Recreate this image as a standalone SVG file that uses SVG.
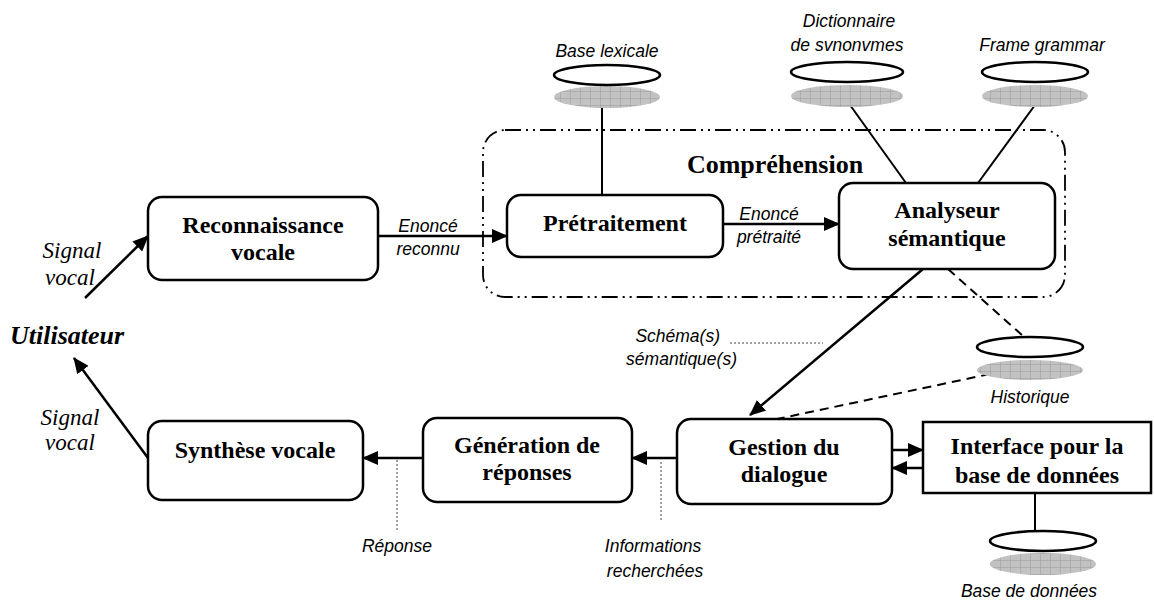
<svg xmlns="http://www.w3.org/2000/svg" width="1154" height="601" viewBox="0 0 1154 601">
<style>
.box{fill:#fff;stroke:#000;stroke-width:2.5}
.bt{font-family:"Liberation Serif","Times New Roman",serif;font-weight:bold;font-size:24px;text-anchor:middle;fill:#000}
.lbl{font-family:"Liberation Sans",Arial,sans-serif;font-style:italic;font-size:17.5px;fill:#000}
.sig{font-family:"Liberation Serif","Times New Roman",serif;font-style:italic;font-size:23px;text-anchor:middle;fill:#000}
.ln{stroke:#000;stroke-width:2;fill:none}
.arr{stroke:#000;stroke-width:2.5;fill:none;marker-end:url(#ah)}
.dash{stroke:#000;stroke-width:2;fill:none;stroke-dasharray:9 6}
.dot{stroke:#444;stroke-width:1;fill:none;stroke-dasharray:2 2}
.top{fill:#fff;stroke:#000;stroke-width:2.5}
.bot{fill:url(#hatch);stroke:none}
</style>
<defs>
<marker id="ah" markerUnits="userSpaceOnUse" markerWidth="16" markerHeight="14" refX="15" refY="7" orient="auto">
<path d="M0,0 L16,7 L0,14 z" fill="#000"/>
</marker>
<pattern id="hatch" patternUnits="userSpaceOnUse" width="10" height="7">
<rect width="10" height="7" fill="#c2c2c2"/>
<path d="M0,0 V7 M0,0 H10" stroke="#9a9a9a" stroke-width="1"/>
</pattern>
</defs>

<g id="comprehension">
<rect x="483" y="130" width="582" height="167" rx="22" fill="none" stroke="#000" stroke-width="1.8" stroke-dasharray="16 5 2 5 2 5"/>
<text x="775" y="173" class="bt" style="font-size:26px">Compréhension</text>
</g>

<g id="connectors">
<line class="arr" x1="85" y1="298" x2="148" y2="236"/>
<line class="arr" x1="148" y1="458" x2="74" y2="358"/>
<line class="arr" x1="378" y1="236" x2="507" y2="236"/>
<line class="arr" x1="723" y1="224" x2="839" y2="224"/>
<line class="ln" x1="602" y1="106" x2="602" y2="195"/>
<line class="ln" x1="850" y1="105" x2="906" y2="183"/>
<line class="ln" x1="1035" y1="105" x2="978" y2="183"/>
<line class="arr" x1="923" y1="269" x2="750" y2="415"/>
<line class="dash" x1="948" y1="269" x2="1022" y2="335"/>
<line class="dash" x1="990" y1="374" x2="777" y2="419"/>
<line class="arr" x1="677" y1="458" x2="632" y2="458"/>
<line class="arr" x1="423" y1="458" x2="363" y2="458"/>
<line class="arr" x1="892" y1="450" x2="923" y2="450"/>
<line class="arr" x1="923" y1="468" x2="892" y2="468"/>
<line class="ln" x1="1035" y1="493" x2="1035" y2="531"/>
<line class="dot" x1="730" y1="343" x2="823" y2="343"/>
<line class="dot" x1="661" y1="462" x2="661" y2="522"/>
<line class="dot" x1="397" y1="460" x2="397" y2="530"/>
</g>

<g id="labels">
<text class="sig" x="72" y="258">Signal</text>
<text class="sig" x="70" y="285">vocal</text>
<text class="sig" x="70" y="425">Signal</text>
<text class="sig" x="70" y="450">vocal</text>
<text x="10" y="344" style="font-family:'Liberation Serif','Times New Roman',serif;font-style:italic;font-weight:bold;font-size:26px">Utilisateur</text>
<text class="lbl" x="428" y="232" text-anchor="middle">Enoncé</text>
<text class="lbl" x="428" y="255" text-anchor="middle">reconnu</text>
<text class="lbl" x="769" y="220" text-anchor="middle">Enoncé</text>
<text class="lbl" x="769" y="243" text-anchor="middle">prétraité</text>
<text class="lbl" x="720" y="342" text-anchor="end">Schéma(s)</text>
<text class="lbl" x="737" y="365" text-anchor="end">sémantique(s)</text>
<text class="lbl" x="397" y="552" text-anchor="middle">Réponse</text>
<text class="lbl" x="653" y="552" text-anchor="middle">Informations</text>
<text class="lbl" x="655" y="577" text-anchor="middle">recherchées</text>
</g>

<g id="reconnaissance">
<rect class="box" x="148" y="197" width="230" height="83" rx="14"/>
<text class="bt" x="263" y="233">Reconnaissance</text>
<text class="bt" x="263" y="260">vocale</text>
</g>

<g id="pretraitement">
<rect class="box" x="507" y="195" width="216" height="62" rx="14"/>
<text class="bt" x="615" y="231">Prétraitement</text>
</g>

<g id="analyseur">
<rect class="box" x="839" y="183" width="216" height="86" rx="14"/>
<text class="bt" x="947" y="218">Analyseur</text>
<text class="bt" x="947" y="246">sémantique</text>
</g>

<g id="synthese">
<rect class="box" x="148" y="421" width="215" height="79" rx="14"/>
<text class="bt" x="255" y="458">Synthèse vocale</text>
</g>

<g id="generation">
<rect class="box" x="423" y="418" width="209" height="84" rx="14"/>
<text class="bt" x="527" y="453">Génération de</text>
<text class="bt" x="527" y="480">réponses</text>
</g>

<g id="gestion">
<rect class="box" x="677" y="419" width="215" height="85" rx="14"/>
<text class="bt" x="784" y="455">Gestion du</text>
<text class="bt" x="784" y="482">dialogue</text>
</g>

<g id="interface">
<rect class="box" x="923" y="422" width="228" height="71"/>
<text class="bt" x="1037" y="454">Interface pour la</text>
<text class="bt" x="1037" y="483">base de données</text>
</g>

<g id="base-lexicale">
<ellipse class="bot" cx="607" cy="97" rx="53" ry="11"/>
<ellipse class="top" cx="607" cy="75" rx="53" ry="10"/>
<text class="lbl" x="607" y="57" text-anchor="middle">Base lexicale</text>
</g>

<g id="dictionnaire">
<ellipse class="bot" cx="847" cy="96" rx="56" ry="11"/>
<ellipse class="top" cx="847" cy="72" rx="56" ry="10"/>
<text class="lbl" x="849" y="27" text-anchor="middle">Dictionnaire</text>
<text class="lbl" x="847" y="51" text-anchor="middle">de svnonvmes</text>
</g>

<g id="frame-grammar">
<ellipse class="bot" cx="1035" cy="96" rx="53" ry="11"/>
<ellipse class="top" cx="1035" cy="72" rx="53" ry="10"/>
<text class="lbl" x="1042" y="51" text-anchor="middle">Frame grammar</text>
</g>

<g id="historique">
<ellipse class="bot" cx="1030" cy="370" rx="53" ry="10"/>
<ellipse class="top" cx="1030" cy="347" rx="53" ry="10"/>
<text class="lbl" x="1030" y="403" text-anchor="middle">Historique</text>
</g>

<g id="base-donnees">
<ellipse class="bot" cx="1043" cy="564" rx="53" ry="11"/>
<ellipse class="top" cx="1043" cy="541" rx="53" ry="10"/>
<text class="lbl" x="1029" y="597" text-anchor="middle">Base de données</text>
</g>
</svg>
